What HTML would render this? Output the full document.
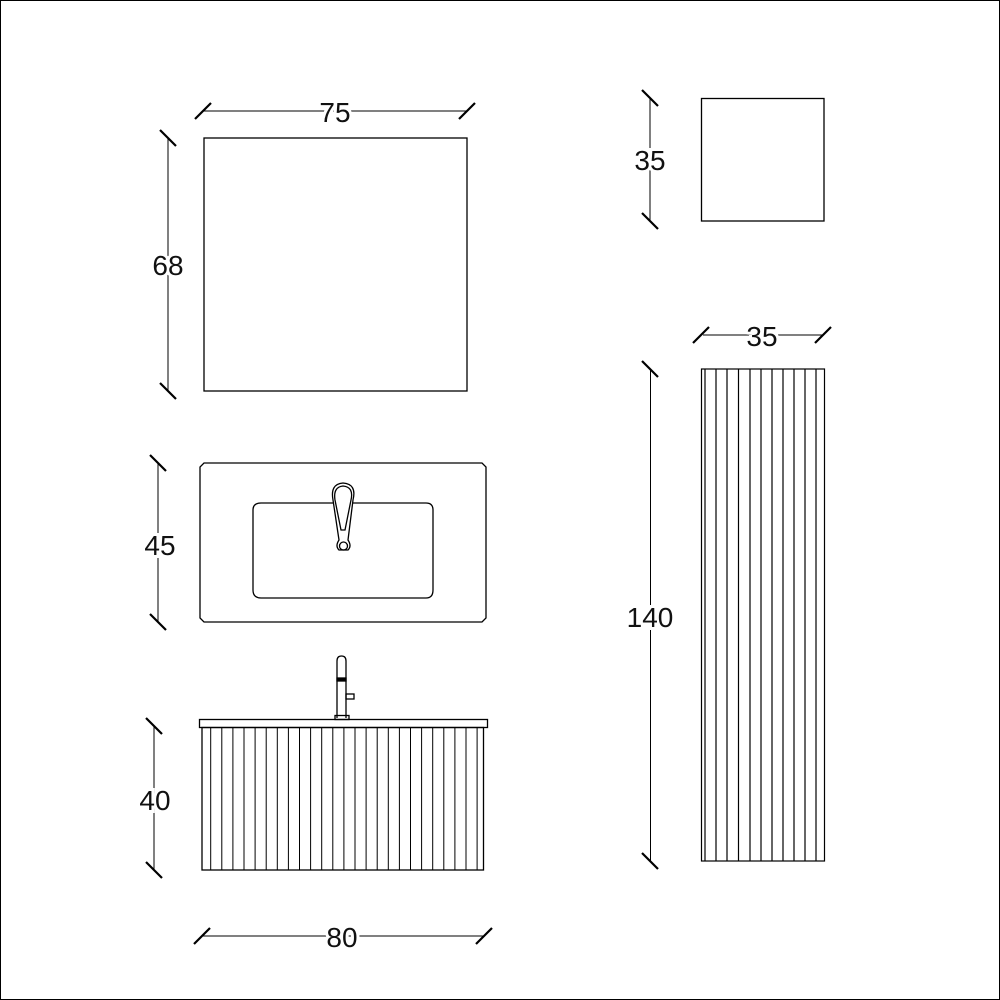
<!DOCTYPE html>
<html><head><style>html,body{margin:0;padding:0;background:#fff}svg{display:block}</style></head>
<body>
<svg width="1000" height="1000" viewBox="0 0 1000 1000" xmlns="http://www.w3.org/2000/svg" font-family="Liberation Sans, sans-serif" font-size="28">
<rect x="0.5" y="0.5" width="999" height="999" fill="none" stroke="#000" stroke-width="1"/>
<g fill="none" stroke="#000" stroke-width="1.3">
<rect x="204" y="138" width="263" height="253"/>
<rect x="701.5" y="98.5" width="122.5" height="122.5"/>
<path d="M204,463 H482 L486,467 V618 L482,622 H204 L200,618 V467 Z"/>
<path d="M261,503 H426 Q433,503 433,510 V590 Q433,598 426,598 H261 Q253,598 253,590 V510 Q253,503 261,503 Z"/>
<path d="M343,483 Q357,484 353,500 L348,540 Q352,546 348,550 L339,550 Q335,546 339,540 L333,500 Q330,484 343,483 Z" fill="#fff"/>
<path d="M343,486 Q354,487 351,500 L345,530 L341,530 L335,500 Q333,487 343,486 Z"/>
<circle cx="343.5" cy="546" r="4"/>
<path d="M337,718 V661 Q337,656 341.5,656 Q346,656 346,661 V718"/>
<rect x="337" y="678" width="9" height="3" fill="#000"/>
<rect x="346" y="694" width="8" height="5"/>
<rect x="335" y="715.5" width="14" height="4"/>
<rect x="199.5" y="719.5" width="288" height="8"/>
<rect x="202" y="727.5" width="281.5" height="142.5"/>
</g>
<g stroke="#000" stroke-width="1">
<line x1="210.7" y1="728" x2="210.7" y2="870"/><line x1="221.8" y1="728" x2="221.8" y2="870"/><line x1="232.9" y1="728" x2="232.9" y2="870"/><line x1="244" y1="728" x2="244" y2="870"/><line x1="255.1" y1="728" x2="255.1" y2="870"/><line x1="266.2" y1="728" x2="266.2" y2="870"/><line x1="277.3" y1="728" x2="277.3" y2="870"/><line x1="288.4" y1="728" x2="288.4" y2="870"/><line x1="299.5" y1="728" x2="299.5" y2="870"/><line x1="310.6" y1="728" x2="310.6" y2="870"/><line x1="321.7" y1="728" x2="321.7" y2="870"/><line x1="332.8" y1="728" x2="332.8" y2="870"/><line x1="343.9" y1="728" x2="343.9" y2="870"/><line x1="355" y1="728" x2="355" y2="870"/><line x1="366.1" y1="728" x2="366.1" y2="870"/><line x1="377.2" y1="728" x2="377.2" y2="870"/><line x1="388.3" y1="728" x2="388.3" y2="870"/><line x1="399.4" y1="728" x2="399.4" y2="870"/><line x1="410.5" y1="728" x2="410.5" y2="870"/><line x1="421.6" y1="728" x2="421.6" y2="870"/><line x1="432.7" y1="728" x2="432.7" y2="870"/><line x1="443.8" y1="728" x2="443.8" y2="870"/><line x1="454.9" y1="728" x2="454.9" y2="870"/><line x1="466" y1="728" x2="466" y2="870"/><line x1="477.1" y1="728" x2="477.1" y2="870"/>
</g>
<g stroke="#000" stroke-width="1.2" fill="none">
<rect x="701.5" y="369" width="123" height="492"/>
<line x1="705" y1="369" x2="705" y2="861"/><line x1="716" y1="369" x2="716" y2="861"/><line x1="727" y1="369" x2="727" y2="861"/><line x1="738.5" y1="369" x2="738.5" y2="861"/><line x1="750" y1="369" x2="750" y2="861"/><line x1="761" y1="369" x2="761" y2="861"/><line x1="772" y1="369" x2="772" y2="861"/><line x1="783" y1="369" x2="783" y2="861"/><line x1="794" y1="369" x2="794" y2="861"/><line x1="805" y1="369" x2="805" y2="861"/><line x1="816" y1="369" x2="816" y2="861"/>
</g>
<g stroke="#000" stroke-width="1">
<line x1="203" y1="111" x2="467" y2="111"/>
<line x1="168" y1="138" x2="168" y2="391"/>
<line x1="158" y1="463" x2="158" y2="622"/>
<line x1="154" y1="726" x2="154" y2="870"/>
<line x1="202" y1="936" x2="484" y2="936"/>
<line x1="650" y1="98" x2="650" y2="221"/>
<line x1="703" y1="335" x2="823" y2="335"/>
<line x1="650.5" y1="369" x2="650.5" y2="861"/>
</g>
<g stroke="#000" stroke-width="2.2">
<line x1="195" y1="119" x2="211" y2="103"/><line x1="459" y1="119" x2="475" y2="103"/>
<line x1="160" y1="130" x2="176" y2="146"/><line x1="160" y1="383" x2="176" y2="399"/>
<line x1="150" y1="455" x2="166" y2="471"/><line x1="150" y1="614" x2="166" y2="630"/>
<line x1="146" y1="718" x2="162" y2="734"/><line x1="146" y1="862" x2="162" y2="878"/>
<line x1="194" y1="944" x2="210" y2="928"/><line x1="476" y1="944" x2="492" y2="928"/>
<line x1="642" y1="90" x2="658" y2="106"/><line x1="642" y1="213" x2="658" y2="229"/>
<line x1="693" y1="343" x2="709" y2="327"/><line x1="815" y1="343" x2="831" y2="327"/>
<line x1="642" y1="361" x2="658" y2="377"/><line x1="642" y1="853" x2="658" y2="869"/>
</g>
<g fill="#111" text-anchor="middle" stroke="#fff" stroke-width="6" paint-order="stroke">
<text x="335" y="122">75</text>
<text x="168" y="275">68</text>
<text x="160" y="555">45</text>
<text x="155" y="810">40</text>
<text x="342" y="947">80</text>
<text x="650" y="170">35</text>
<text x="762" y="346">35</text>
<text x="650" y="627">140</text>
</g>
</svg>
</body></html>
